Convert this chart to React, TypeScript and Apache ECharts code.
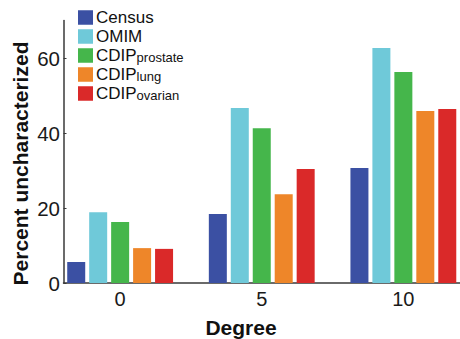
import React, { useEffect, useRef } from "react";
import * as echarts from "echarts";

const degrees = [0, 5, 10];
const yTicks = [0, 20, 40, 60];
const seriesNames = ["Census", "OMIM", "CDIP prostate", "CDIP lung", "CDIP ovarian"];
const census = [5.6, 18.4, 30.7];
const omim = [18.9, 46.7, 62.7];
const cdipProstate = [16.3, 41.3, 56.3];
const cdipLung = [9.3, 23.7, 45.9];
const cdipOvarian = [9.1, 30.4, 46.4];
const colors = ["#3B50A3", "#6FC9D9", "#45B64B", "#EE8629", "#DA2929"];

const FONT = "'Liberation Sans', Arial, Helvetica, sans-serif";

export default function App() {
  const ref = useRef<HTMLDivElement>(null);
  useEffect(() => {
    if (!ref.current) return;
    const chart = echarts.init(ref.current, null, { renderer: "svg" });
    const values = [census, omim, cdipProstate, cdipLung, cdipOvarian];
    const series = seriesNames.map((name, i) => ({
      name,
      type: "bar",
      data: degrees.map((d, j) => [d, values[i][j]]),
      barWidth: 18,
      barGap: "22%",
      itemStyle: { color: colors[i] },
    }));
    chart.setOption({
      animation: false,
      textStyle: { fontFamily: FONT },
      grid: { left: 63.5, right: 0, top: 20.5, bottom: 56, containLabel: false },
      legend: {
        left: 78,
        top: 9,
        padding: 0,
        orient: "vertical",
        icon: "rect",
        itemWidth: 15,
        itemHeight: 14.5,
        itemGap: 2,
        selectedMode: false,
        data: seriesNames,
        formatter: (name: string) => {
          if (name.startsWith("CDIP ")) {
            return "{a|CDIP}{b|" + name.slice(5) + "}";
          }
          return "{a|" + name + "}";
        },
        textStyle: {
          fontFamily: FONT,
          color: "#111",
          padding: [0, 0, 0, -2],
          rich: {
            a: { fontSize: 17, lineHeight: 17, fontFamily: FONT, color: "#111", verticalAlign: "bottom" },
            b: { fontSize: 13, lineHeight: 13, fontFamily: FONT, color: "#111", verticalAlign: "bottom" },
          },
        },
      },
      xAxis: {
        type: "value",
        min: -2,
        max: 12,
        interval: 1,
        splitLine: { show: false },
        axisTick: { show: false },
        axisLine: { show: true, onZero: false, lineStyle: { color: "#3a3a3a", width: 1.5 } },
        axisLabel: {
          customValues: degrees,
          formatter: (v: number) => (degrees.indexOf(v) >= 0 ? String(v) : ""),
          fontSize: 20,
          color: "#1a1a1a",
          margin: 6,
          fontFamily: FONT,
        },
      },
      yAxis: {
        type: "value",
        min: 0,
        max: 70,
        interval: 10,
        splitLine: { show: false },
        axisLine: { show: true, onZero: false, lineStyle: { color: "#3a3a3a", width: 1.5 } },
        axisTick: { show: true, inside: true, length: 3, customValues: yTicks, lineStyle: { color: "#3a3a3a" } },
        axisLabel: {
          customValues: yTicks,
          formatter: (v: number) => (yTicks.indexOf(v) >= 0 ? String(v) : ""),
          fontSize: 20.5,
          color: "#1a1a1a",
          margin: 3.5,
          fontFamily: FONT,
        },
      },
      graphic: [
        {
          type: "text",
          x: 20,
          y: 163.5,
          rotation: Math.PI / 2,
          style: {
            text: "Percent uncharacterized",
            font: "bold 21px " + FONT,
            fill: "#111",
            align: "center",
            verticalAlign: "middle",
          },
        },
        {
          type: "text",
          x: 241,
          y: 327.5,
          style: {
            text: "Degree",
            font: "bold 21px " + FONT,
            fill: "#111",
            align: "center",
            verticalAlign: "middle",
          },
        },
      ],
      series,
    });
    return () => chart.dispose();
  }, []);
  return (
    <div
      ref={ref}
      style={{ width: 460, height: 339, position: "absolute", left: 0, top: 0 }}
    />
  );
}
